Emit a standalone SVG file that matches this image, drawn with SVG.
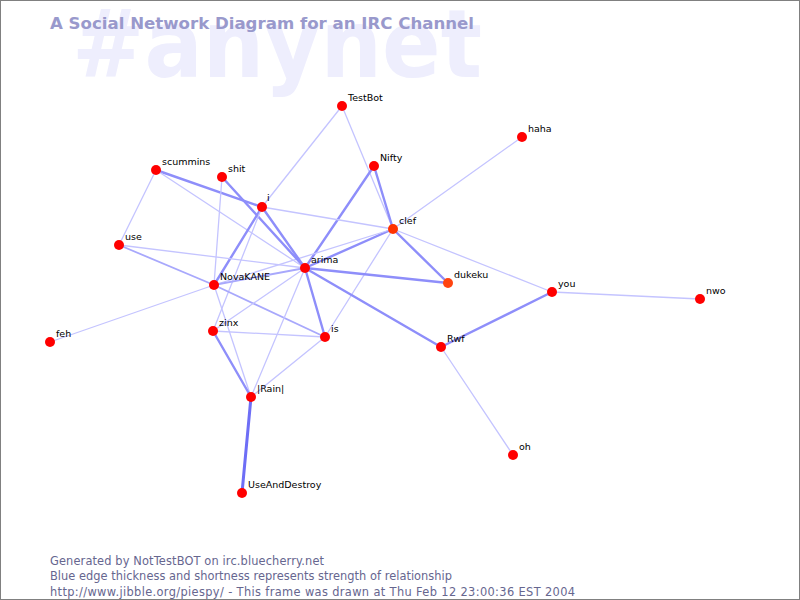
<svg xmlns="http://www.w3.org/2000/svg" width="800" height="600" viewBox="0 0 800 600">
<style>
.bg{fill:#ffffff;stroke:#808080;stroke-width:1}
.wm{font-family:"DejaVu Sans",sans-serif;font-weight:bold;font-size:95px;fill:#eeeefd}
.title{font-family:"DejaVu Sans",sans-serif;font-weight:bold;font-size:16.5px;fill:#9999cc}
.foot{font-family:"DejaVu Sans",sans-serif;font-size:11.4px;fill:#66668f}
#edges line{stroke-linecap:round;fill:none}
.e1{stroke:#c4c4ff;stroke-width:1.3}
.e2{stroke:#a8a8fc;stroke-width:1.8}
.e3{stroke:#8e8efa;stroke-width:2.4}
.e4{stroke:#6e6ef6;stroke-width:3}
.n{fill:#ff0000}
.lbl{font-family:"DejaVu Sans",sans-serif;font-size:9.5px;fill:#000000}
</style>
<rect class="bg" x="0.5" y="0.5" width="799" height="599"/>
<text class="wm" x="72" y="77" textLength="410" lengthAdjust="spacingAndGlyphs">#anynet</text>
<text class="title" x="50" y="29" textLength="424" lengthAdjust="spacingAndGlyphs">A Social Network Diagram for an IRC Channel</text>
<g id="edges">
<line class="e1" x1="342" y1="106" x2="262" y2="207"/>
<line class="e1" x1="342" y1="106" x2="393" y2="229"/>
<line class="e3" x1="374" y1="166" x2="393" y2="229"/>
<line class="e3" x1="374" y1="166" x2="305" y2="268"/>
<line class="e1" x1="522" y1="137" x2="393" y2="229"/>
<line class="e3" x1="393" y1="229" x2="305" y2="268"/>
<line class="e1" x1="393" y1="229" x2="262" y2="207"/>
<line class="e1" x1="393" y1="229" x2="214" y2="285"/>
<line class="e1" x1="393" y1="229" x2="325" y2="337"/>
<line class="e3" x1="393" y1="229" x2="448" y2="283"/>
<line class="e1" x1="393" y1="229" x2="552" y2="292"/>
<line class="e3" x1="305" y1="268" x2="448" y2="283"/>
<line class="e1" x1="552" y1="292" x2="700" y2="299"/>
<line class="e3" x1="552" y1="292" x2="441" y2="347"/>
<line class="e1" x1="441" y1="347" x2="513" y2="455"/>
<line class="e3" x1="305" y1="268" x2="441" y2="347"/>
<line class="e3" x1="305" y1="268" x2="325" y2="337"/>
<line class="e3" x1="156" y1="170" x2="262" y2="207"/>
<line class="e1" x1="156" y1="170" x2="305" y2="268"/>
<line class="e3" x1="222" y1="177" x2="305" y2="268"/>
<line class="e1" x1="222" y1="177" x2="214" y2="285"/>
<line class="e3" x1="262" y1="207" x2="214" y2="285"/>
<line class="e3" x1="262" y1="207" x2="305" y2="268"/>
<line class="e1" x1="262" y1="207" x2="213" y2="331"/>
<line class="e1" x1="119" y1="245" x2="156" y2="170"/>
<line class="e1" x1="119" y1="245" x2="305" y2="268"/>
<line class="e2" x1="119" y1="245" x2="214" y2="285"/>
<line class="e2" x1="214" y1="285" x2="305" y2="268"/>
<line class="e1" x1="214" y1="285" x2="50" y2="342"/>
<line class="e2" x1="214" y1="285" x2="325" y2="337"/>
<line class="e1" x1="214" y1="285" x2="251" y2="397"/>
<line class="e1" x1="213" y1="331" x2="325" y2="337"/>
<line class="e3" x1="213" y1="331" x2="251" y2="397"/>
<line class="e1" x1="213" y1="331" x2="305" y2="268"/>
<line class="e1" x1="251" y1="397" x2="305" y2="268"/>
<line class="e1" x1="251" y1="397" x2="325" y2="337"/>
<line class="e4" x1="251" y1="397" x2="242" y2="493"/>
</g>
<g id="node-TestBot"><circle class="n" cx="342" cy="106" r="5"/><text class="lbl" x="348" y="100.5">TestBot</text></g>
<g id="node-haha"><circle class="n" cx="522" cy="137" r="5"/><text class="lbl" x="528" y="131.5">haha</text></g>
<g id="node-Nifty"><circle class="n" cx="374" cy="166" r="5"/><text class="lbl" x="380" y="160.5">Nifty</text></g>
<g id="node-scummins"><circle class="n" cx="156" cy="170" r="5"/><text class="lbl" x="162" y="164.5">scummins</text></g>
<g id="node-shit"><circle class="n" cx="222" cy="177" r="5"/><text class="lbl" x="228" y="171.5">shit</text></g>
<g id="node-i"><circle class="n" cx="262" cy="207" r="5"/><text class="lbl" x="267" y="201">i</text></g>
<g id="node-clef"><circle class="n" cx="393" cy="229" r="5" style="fill:#ff3300"/><text class="lbl" x="399" y="223.5">clef</text></g>
<g id="node-use"><circle class="n" cx="119" cy="245" r="5"/><text class="lbl" x="125" y="239.5">use</text></g>
<g id="node-arima"><circle class="n" cx="305" cy="268" r="5"/><text class="lbl" x="311" y="262.5">arima</text></g>
<g id="node-dukeku"><circle class="n" cx="448" cy="283" r="5" style="fill:#ff4410"/><text class="lbl" x="454" y="277.5">dukeku</text></g>
<g id="node-NovaKANE"><circle class="n" cx="214" cy="285" r="5"/><text class="lbl" x="220" y="279.5">NovaKANE</text></g>
<g id="node-you"><circle class="n" cx="552" cy="292" r="5"/><text class="lbl" x="558" y="286.5">you</text></g>
<g id="node-nwo"><circle class="n" cx="700" cy="299" r="5"/><text class="lbl" x="706" y="293.5">nwo</text></g>
<g id="node-feh"><circle class="n" cx="50" cy="342" r="5"/><text class="lbl" x="56" y="336.5">feh</text></g>
<g id="node-zinx"><circle class="n" cx="213" cy="331" r="5"/><text class="lbl" x="219" y="325.5">zinx</text></g>
<g id="node-is"><circle class="n" cx="325" cy="337" r="5"/><text class="lbl" x="331" y="331.5">is</text></g>
<g id="node-Rwf"><circle class="n" cx="441" cy="347" r="5"/><text class="lbl" x="447" y="341.5">Rwf</text></g>
<g id="node-Rain"><circle class="n" cx="251" cy="397" r="5"/><text class="lbl" x="257" y="391.5">|Rain|</text></g>
<g id="node-oh"><circle class="n" cx="513" cy="455" r="5"/><text class="lbl" x="519" y="449.5">oh</text></g>
<g id="node-UseAndDestroy"><circle class="n" cx="242" cy="493" r="5"/><text class="lbl" x="248" y="487.5">UseAndDestroy</text></g>
<text class="foot" x="50" y="564.5" textLength="274">Generated by NotTestBOT on irc.bluecherry.net</text>
<text class="foot" x="50" y="580" textLength="402">Blue edge thickness and shortness represents strength of relationship</text>
<text class="foot" x="50" y="595.5" textLength="525">http://www.jibble.org/piespy/ - This frame was drawn at Thu Feb 12 23:00:36 EST 2004</text>
</svg>
